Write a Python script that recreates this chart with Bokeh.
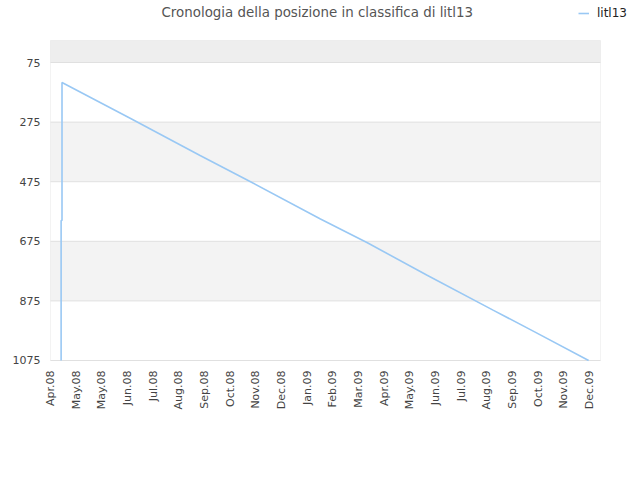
from datetime import date
from bokeh.plotting import figure
from bokeh.models import (Range1d, FixedTicker, BoxAnnotation, Legend, LegendItem, Label)
from bokeh.embed import file_html
from bokeh.resources import INLINE

# ---- data ----
series_name = "litl13"
title_text = "Cronologia della posizione in classifica di litl13"
dates = ["2008-04-14", "2008-04-14", "2008-04-15", "2008-04-15", "2008-07-01",
         "2008-09-18", "2008-11-14", "2009-02-01", "2009-03-26", "2009-06-01",
         "2009-08-15", "2009-10-01", "2009-12-01"]
ranks = [1075, 605, 605, 142, 262, 387, 475, 600, 680, 788, 906, 979, 1075]
tick_labels = ["Apr.08", "May.08", "May.08", "Jun.08", "Jul.08", "Aug.08", "Sep.08",
               "Oct.08", "Nov.08", "Dec.08", "Jan.09", "Feb.09", "Mar.09", "Apr.09",
               "May.09", "Jun.09", "Jul.09", "Aug.09", "Sep.09", "Oct.09", "Nov.09",
               "Dec.09"]
y_ticks = [75, 275, 475, 675, 875, 1075]

base = date(2008, 4, 2)
tick_step = 29
xs = [(date.fromisoformat(d) - base).days for d in dates]
x_ticks = [i * tick_step for i in range(len(tick_labels))]

# visible plot area (data units); the frame is larger to host title + legend
X_END = 621.4
Y_TOP = 1
p = figure(width=640, height=464, output_backend="svg", toolbar_location=None,
           x_range=Range1d(-1.13, 655.3), y_range=Range1d(1078.4, -116.3),
           min_border_left=49, min_border_right=10, min_border_top=5,
           min_border_bottom=103)
p.frame_width = 581
p.frame_height = 356
p.outline_line_color = None

# bands
p.add_layout(BoxAnnotation(left=0, right=X_END, bottom=Y_TOP, top=75,
                           fill_color="#eeeeee", fill_alpha=1,
                           line_color=None, level="underlay"))
for b, t in [(275, 475), (675, 875)]:
    p.add_layout(BoxAnnotation(left=0, right=X_END, bottom=b, top=t,
                               fill_color="#f3f3f3", fill_alpha=1,
                               line_color=None, level="underlay"))

# grid lines limited to the plot area
p.xgrid.grid_line_color = None
p.ygrid.grid_line_color = None
p.segment(x0=0, x1=X_END, y0=y_ticks, y1=y_ticks, line_color="#e0e0e0", line_width=1)

# plot-area border
p.add_layout(BoxAnnotation(left=0, right=X_END, bottom=Y_TOP, top=1075,
                           fill_alpha=0, line_color="#d6d6d6", line_width=1,
                           level="underlay"))

r = p.line(xs, ranks, line_color="#99c8f4", line_width=1.6)

p.add_layout(Label(x=112, y=349, x_units="screen", y_units="screen",
                   text=title_text, text_baseline="middle", text_align="left",
                   text_font="DejaVu Sans", text_font_size="13.4px",
                   text_color="#555555"))

p.yaxis.ticker = FixedTicker(ticks=y_ticks)
p.xaxis.ticker = FixedTicker(ticks=x_ticks)
p.xaxis.major_label_overrides = {t: l for t, l in zip(x_ticks, tick_labels)}
p.xaxis.major_label_orientation = 1.5708
for ax in (p.xaxis, p.yaxis):
    ax.axis_line_color = None
    ax.major_tick_line_color = None
    ax.minor_tick_line_color = None
    ax.major_label_text_font = "DejaVu Sans"
    ax.major_label_text_font_size = "11px"
    ax.major_label_text_color = "#444444"
p.xaxis.major_label_standoff = 3
p.yaxis.major_label_standoff = 3

legend = Legend(items=[LegendItem(label=series_name, renderers=[r])],
                location=(529, 340), padding=0, spacing=0, margin=0,
                glyph_width=11, glyph_height=16, label_standoff=8,
                border_line_color=None, background_fill_alpha=0,
                label_text_font="DejaVu Sans", label_text_font_size="12px",
                label_text_color="#222222")
p.add_layout(legend)

open("out.html", "w").write(file_html(p, INLINE))
